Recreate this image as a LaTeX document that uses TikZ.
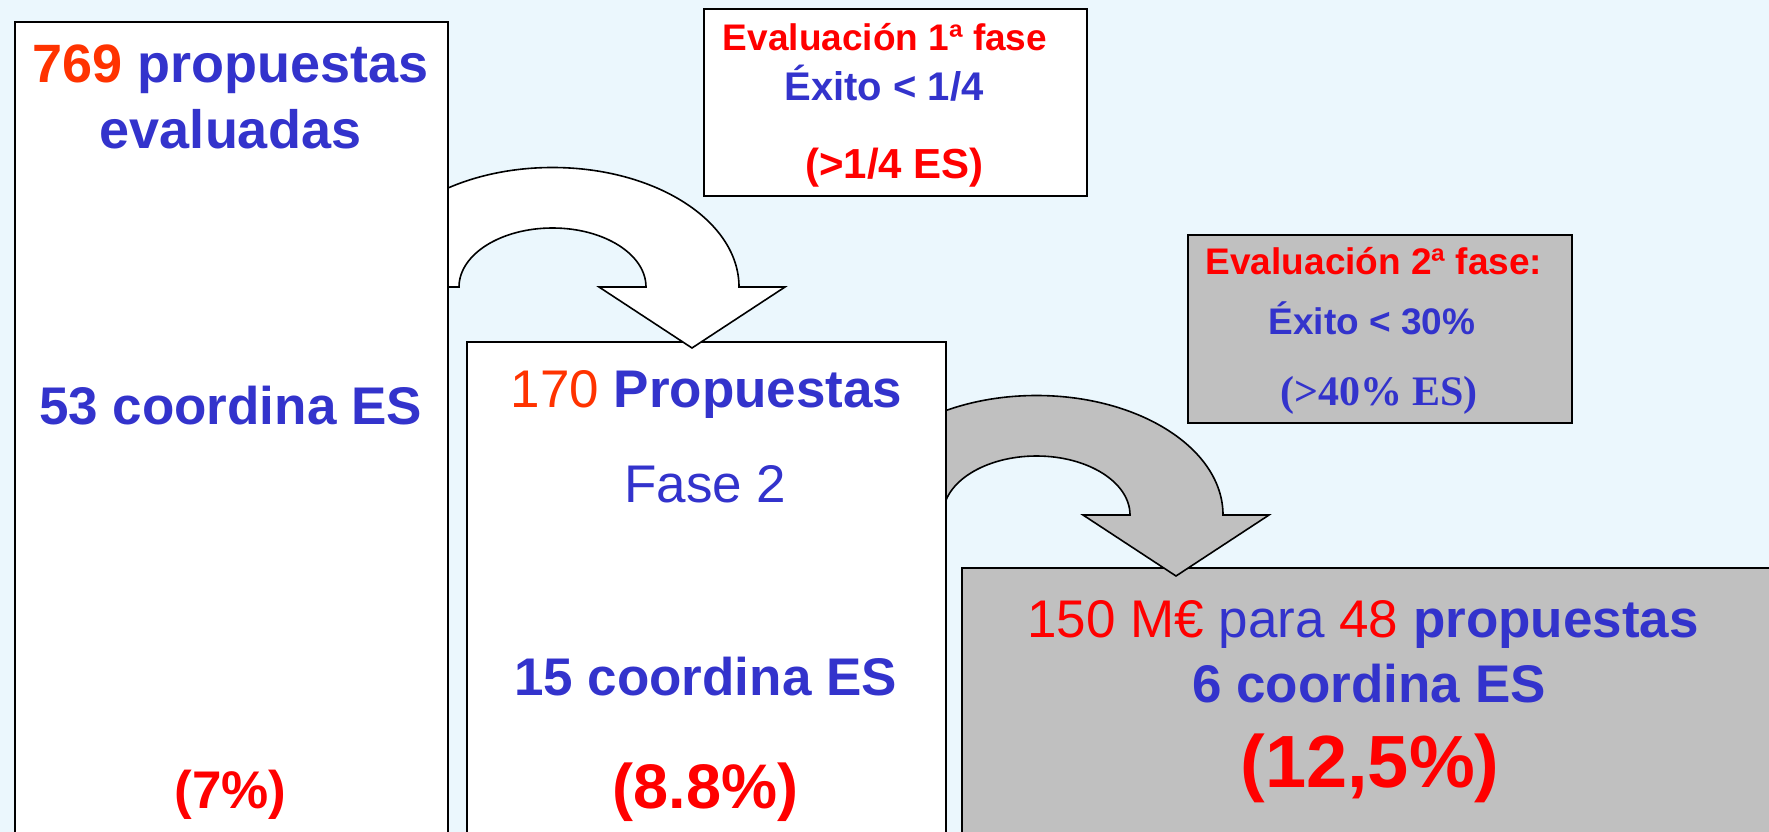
\documentclass[tikz,border=0pt]{standalone}
\usepackage{fontspec}
\setmainfont{Liberation Sans}
\newfontfamily\timesfont{Liberation Serif}
\usepackage{tikz}
\usetikzlibrary{calc}
\definecolor{bgblue}{RGB}{235,247,253}
\definecolor{txtblue}{RGB}{51,51,204}
\definecolor{numorange}{RGB}{255,51,0}
\definecolor{boxgrey}{RGB}{192,192,192}
\tikzset{
  bentarrow/.pic={
    \path[pic actions] (-93.5,0) arc[start angle=180,end angle=0,x radius=93.5pt,y radius=59pt]
      -- (46.5,0) -- (139.5,-61) -- (232.5,0) -- (186.5,0)
      arc[start angle=0,end angle=180,x radius=186.5pt,y radius=119.5pt] -- cycle;
  }
}

\begin{document}
\begin{tikzpicture}[x=1pt,y=1pt,
  box/.style={draw=black,line width=1.6pt,fill=white,anchor=north west,inner sep=0pt},
  greybox/.style={box,fill=boxgrey},
  arrowshape/.style={draw=black,line width=1.6pt},
  txt/.style={anchor=base,inner sep=0pt,text=txtblue,font=\fontsize{53}{60}\selectfont\bfseries},
  note/.style={anchor=base,inner sep=0pt,text=txtblue,font=\fontsize{37}{42}\selectfont\bfseries}]
\clip (0,0) rectangle (1769,-832);
\fill[bgblue] (0,0) rectangle (1769,-832);
% boxes, back to front
\node[greybox,minimum width=820pt,minimum height=280pt] (fundbox) at (961,-567) {};
\coordinate (bend2) at (1036.5,-515);
\pic[fill=boxgrey,arrowshape] at (bend2) {bentarrow};
\node[box,minimum width=479pt,minimum height=510pt] (phasebox) at (466,-341) {};
\coordinate (bend1) at (552.5,-287);
\pic[fill=white,arrowshape] at (bend1) {bentarrow};
\node[box,minimum width=433pt,minimum height=830pt] (propbox) at (14,-21) {};
\node[box,minimum width=383pt,minimum height=187pt] (evalone) at (703,-8) {};
\node[greybox,minimum width=384pt,minimum height=188pt] (evaltwo) at (1187,-234) {};
% first box
\node[txt,font=\fontsize{54}{60}\selectfont\bfseries] (proptotal) at (230.5,-83) {{\color{numorange}769} propuestas};
\node[txt,font=\fontsize{54}{60}\selectfont\bfseries] (propeval) at (230.5,-148) {evaluadas};
\node[txt] (propcoord) at (230.5,-424) {53 coordina ES};
\node[txt,text=red] (proppct) at (230.5,-808) {(7\%)};
% second box
\node[txt] (phasetotal) at (706.5,-407) {{\mdseries\color{numorange}170} Propuestas};
\node[txt,font=\fontsize{53}{60}\selectfont] (phasename) at (705.5,-502) {Fase 2};
\node[txt] (phasecoord) at (705.5,-695) {15 coordina ES};
\node[txt,text=red,font=\fontsize{63}{70}\selectfont\bfseries] (phasepct) at (705.5,-808) {(8.8\%)};
% third box
\node[txt] (fundtotal) at (1363,-637) {{\mdseries\color{red}150 M€ }{\mdseries para }{\mdseries\color{red}48} propuestas};
\node[txt] (fundcoord) at (1369,-702) {6 coordina ES};
\node[txt,text=red,font=\fontsize{74}{80}\selectfont\bfseries] (fundpct) at (1370,-787) {(12,5\%)};
% notes
\node[note,text=red] (evalonetitle) at (885,-51) {Evaluación 1ª fase};
\node[note,font=\fontsize{40}{44}\selectfont\bfseries] (evaloneodds) at (884,-101) {Éxito < 1/4};
\node[note,text=red,font=\fontsize{42}{46}\selectfont\bfseries] (evaloneES) at (894.5,-178) {(>1/4 ES)};
\node[note,text=red] (evaltwotitle) at (1374,-274) {Evaluación 2ª fase:};
\node[note] (evaltwoodds) at (1372,-334) {Éxito < 30\%};
\node[note,font=\fontsize{42}{48}\selectfont\timesfont\bfseries] (evaltwoES) at (1379,-405) {(>40\% ES)};
\end{tikzpicture}
\end{document}
